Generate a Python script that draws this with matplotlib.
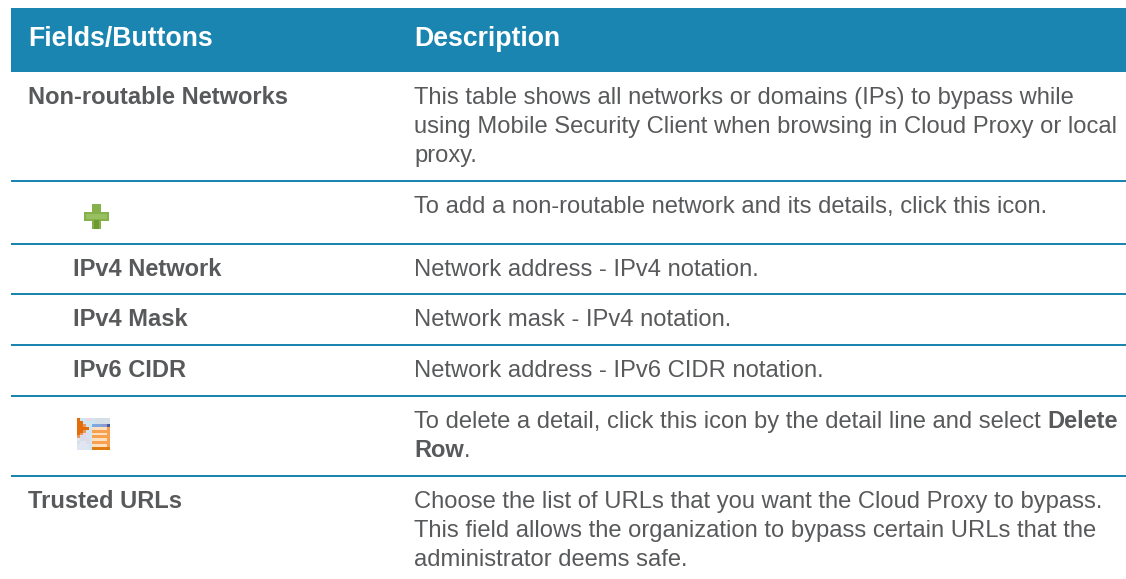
import matplotlib
matplotlib.use('Agg')
import matplotlib.pyplot as plt
from matplotlib.colors import to_rgb
from matplotlib.patches import Rectangle

W, H = 1126, 579
blue = '#1a85b0'
grey = '#58595b'
plt.rcParams['font.family'] = ['Liberation Sans', 'DejaVu Sans']

headers = ['Fields/Buttons', 'Description']
fields = ['Non-routable Networks', 'IPv4 Network', 'IPv4 Mask', 'IPv6 CIDR', 'Trusted URLs']
field_x = [28, 73, 73, 73, 28]
field_y = [104, 276, 326, 377, 508]
desc_lines = [
    'This table shows all networks or domains (IPs) to bypass while',
    'using Mobile Security Client when browsing in Cloud Proxy or local',
    'proxy.',
    'To add a non-routable network and its details, click this icon.',
    'Network address - IPv4 notation.',
    'Network mask - IPv4 notation.',
    'Network address - IPv6 CIDR notation.',
    'To delete a detail, click this icon by the detail line and select',
    'Choose the list of URLs that you want the Cloud Proxy to bypass.',
    'This field allows the organization to bypass certain URLs that the',
    'administrator deems safe.',
]
desc_y = [104, 133, 162, 213, 276, 326, 377, 428, 508, 537, 566]
rules_y = [181, 244, 294, 345, 396, 476]

# icon pixels
icon_colors = {'O': '#e46c0a', 'o': '#e89a5c', 'B': '#cfe6f2', 'P': '#e6d6e6', 'G': '#d5dfe8',
               'b': '#7fa8e0', 'm': '#8a9ad0', 'd': '#4a5a9a', 'W': '#fde0c0', 'F': '#f6a050',
               'D': '#e07b10', 'L': '#dfe6f2'}
icon_rows = ['OBBPPBGGGGG',
             'OOBBBBGGGGG',
             'OOoBBbbbmmd',
             'OOOOBWWWWWF',
             'OOoBBFFFFFF',
             'OoPPBWWWWWF',
             'oGPBBFFFFFF',
             'LGGPBWWWWWF',
             'GLLPBFFFFFF',
             'LLLLBWWWWWF',
             'LLLLBDDDDDD']

fig = plt.figure(figsize=(W / 100, H / 100), dpi=100)
ax = fig.add_axes([0, 0, 1, 1])

ax.add_patch(Rectangle((11, 8), 1115, 64, color=blue, lw=0))
ax.text(28, 46, headers[0], color='white', fontsize=19.2, fontweight='bold')
ax.text(414, 46, headers[1], color='white', fontsize=19.2, fontweight='bold')

for y in rules_y:
    ax.plot([11, 1126], [y, y], color=blue, lw=1.44, solid_capstyle='butt')

for x, y, s in zip(field_x, field_y, fields):
    ax.text(x, y, s, color=grey, fontsize=17.05, fontweight='bold')
for y, s in zip(desc_y, desc_lines):
    ax.text(414, y, s, color=grey, fontsize=17.1)

ax.text(1118, 428, 'Delete', color=grey, fontsize=17.05, fontweight='bold', ha='right')
ax.text(414, 457, 'Row', color=grey, fontsize=17.05, fontweight='bold')
ax.text(464, 457, '.', color=grey, fontsize=17.1)

# plus icon
ax.add_patch(Rectangle((92, 204), 9, 25, color='#86b04a', lw=0))
ax.add_patch(Rectangle((84, 212), 25, 9, color='#86b04a', lw=0))
ax.add_patch(Rectangle((94, 220), 5, 9, color='#6d9a2e', lw=0))
ax.add_patch(Rectangle((86, 214), 21, 5, color='#98c060', lw=0))

# row menu icon
pixels = [[to_rgb(icon_colors[c]) for c in row] for row in icon_rows]
ax.imshow(pixels, extent=(77, 110, 450, 418), interpolation='nearest', aspect='auto')

ax.set_xlim(0, W)
ax.set_ylim(H, 0)
ax.axis('off')

fig.savefig('out.png', dpi=100, facecolor='white')
